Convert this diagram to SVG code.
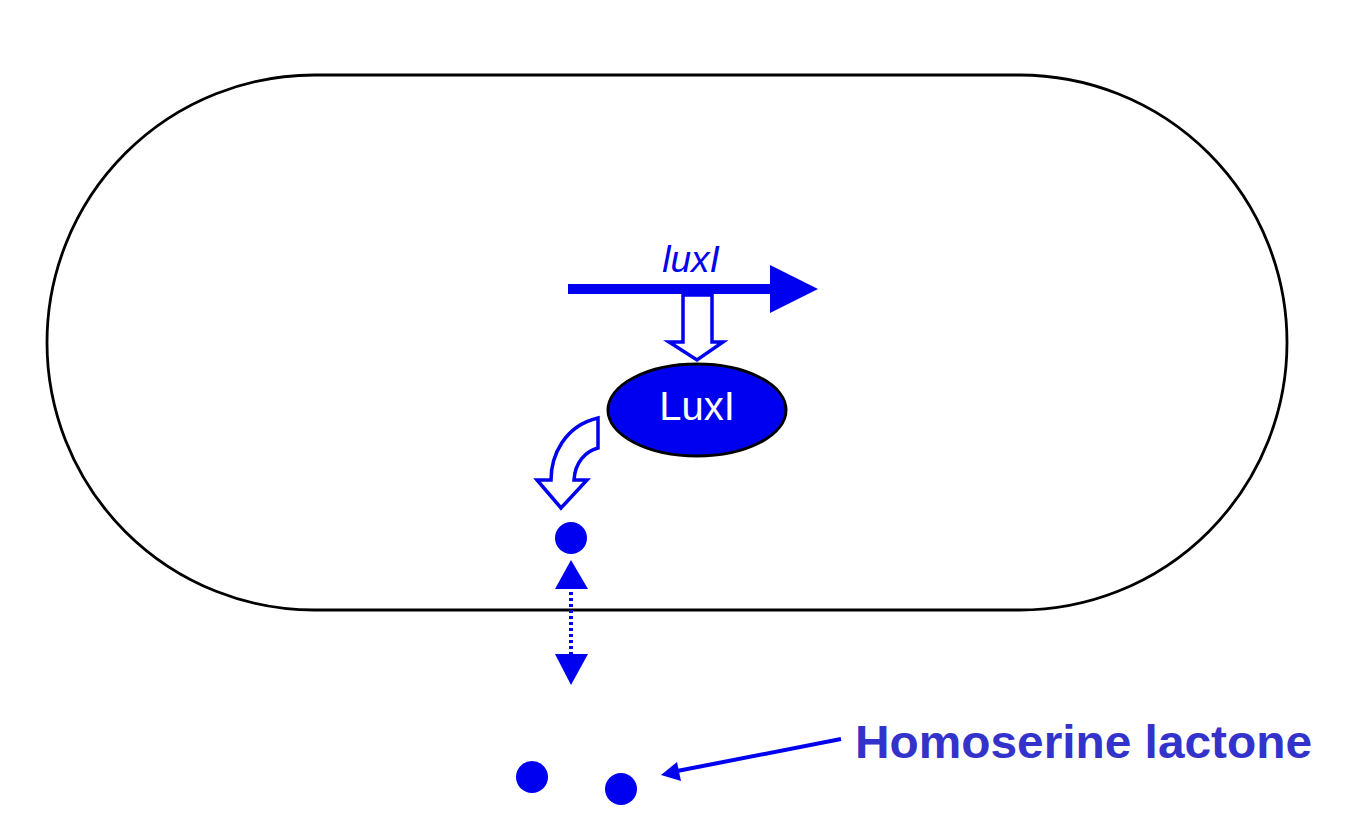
<svg xmlns="http://www.w3.org/2000/svg" width="1352" height="828" viewBox="0 0 1352 828">
<defs>
<style>
.blue{fill:#0000F0;}
.hollow{fill:#fff;stroke:#0000F0;stroke-width:3.5;stroke-linejoin:miter;}
.lbl{font-family:"Liberation Sans",Arial,sans-serif;}
</style>
</defs>
<rect width="1352" height="828" fill="#fff"/>
<g id="cell">
<rect x="47" y="75" width="1240" height="535" rx="267.5" ry="267.5" fill="none" stroke="#000" stroke-width="2.8"/>
</g>
<g id="gene-luxI">
<line x1="568" y1="289" x2="774" y2="289" stroke="#0000F0" stroke-width="10"/>
<polygon class="blue" points="770,265 818,289 770,313"/>
<text class="lbl" x="691" y="272" font-size="37" font-style="italic" fill="#0000F0" text-anchor="middle">luxI</text>
</g>
<g id="connectors">
<polygon class="hollow" points="683,295 712,295 712,342 723,342 697,360 669,342 683,342"/>
<path class="hollow" d="M598,418 L598,448 C586,451 575,462 574,480 L587,480 L561,508 L537,480 L551,480 C551,456 564,426 598,418 Z"/>
<polygon class="blue" points="571,560 588,589 555,589"/>
<line x1="571" y1="592" x2="571" y2="654" stroke="#0000F0" stroke-width="4" stroke-dasharray="3,3"/>
<polygon class="blue" points="555,654 588,654 571,685"/>
<line x1="841" y1="739" x2="672" y2="772" stroke="#0000F0" stroke-width="4"/>
<polygon class="blue" points="661,775 677,762 681,781"/>
</g>
<g id="LuxI">
<ellipse cx="697" cy="410" rx="89" ry="46" fill="#0000F0" stroke="#000" stroke-width="3"/>
<text class="lbl" x="697" y="420" font-size="40" fill="#fff" text-anchor="middle">LuxI</text>
</g>
<g id="hsl-inside">
<circle class="blue" cx="571" cy="538" r="16"/>
</g>
<g id="hsl-outside">
<circle class="blue" cx="532" cy="777" r="16"/>
<circle class="blue" cx="621" cy="789" r="16"/>
</g>
<g id="label-homoserine">
<text class="lbl" x="855" y="758" font-size="47" font-weight="bold" fill="#3333CC" textLength="457" lengthAdjust="spacingAndGlyphs">Homoserine lactone</text>
</g>
</svg>
